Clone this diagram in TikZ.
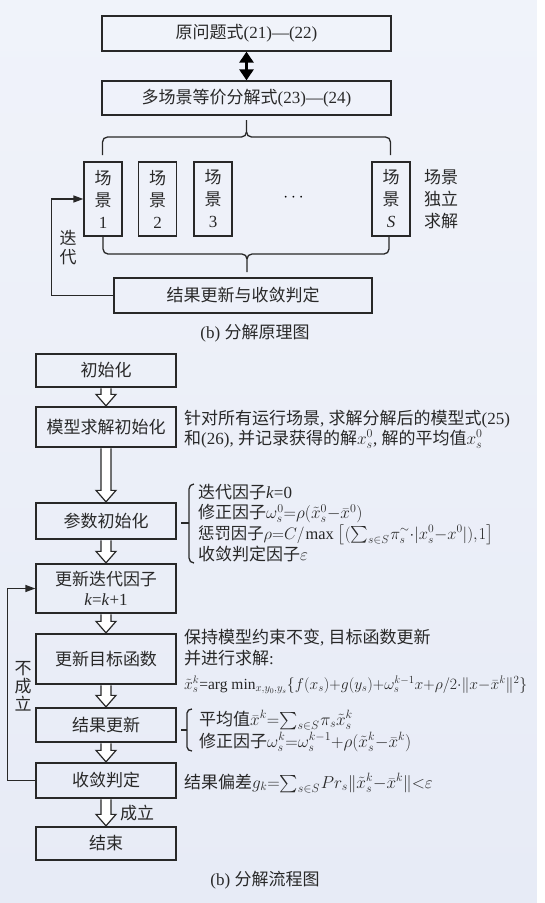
\documentclass[tikz,border=0pt]{standalone}
\usepackage{amsmath}
\usepackage{graphicx}
\usepackage{fontspec}
\setmainfont{Liberation Serif}
\newfontfamily\cjk{Noto Sans CJK SC}
\usetikzlibrary{arrows.meta,calc}
\newcommand\zh[1]{{\cjk #1}}
\newcommand\tightmath{\medmuskip=0mu\relax\thickmuskip=0mu\relax\thinmuskip=1mu\relax}
\definecolor{bgtop}{RGB}{240,243,250}
\definecolor{bgbot}{RGB}{231,235,246}
\definecolor{ink}{RGB}{40,40,40}
\newcommand\harrow[2]{\draw[hollow] let \p1=(#1.south), \p2=(#2.north) in
  (\x1-5pt,\y1-0.7pt) -- (\x1-5pt,\y2+12pt) -- (\x1-10pt,\y2+12pt) -- (\x1,\y2+0.5pt)
  -- (\x1+10pt,\y2+12pt) -- (\x1+5pt,\y2+12pt) -- (\x1+5pt,\y1-0.7pt);}
\begin{document}
\begin{tikzpicture}[x=1pt,y=-1pt,
  every node/.style={text=ink, font=\fontsize{17}{20}\selectfont},
  box/.style={draw=ink, line width=1.3pt, inner sep=0pt, align=center},
  scen/.style={box, minimum width=38pt, minimum height=74pt, font=\fontsize{17}{22}\selectfont},
  fbox/.style={box, minimum width=140pt},
  note/.style={anchor=base west, inner sep=0pt,
    font=\fontsize{17}{20}\selectfont\tightmath},
  thinl/.style={draw=ink, line width=1.3pt},
  fb/.style={thinl, -{Triangle[length=10pt,width=7pt]}},
  hollow/.style={draw=ink, line width=1.2pt, fill=white},
]
\useasboundingbox (0,0) rectangle (544,903);
\shade[top color=bgtop, bottom color=bgbot] (0,0) rectangle (537,903);
\fill[white] (537,0) rectangle (544,903);

% ---------- top: decomposition principle ----------
\node[box, minimum width=289pt, minimum height=35pt] (b1) at (246.5,33.5) {\zh{原问题式}(21)—(22)};
\node[box, minimum width=289pt, minimum height=34pt] (b2) at (246.5,98) {\zh{多场景等价分解式}(23)—(24)};
\draw[line width=3.5pt, draw=black, {Triangle[length=11pt,width=14pt]}-{Triangle[length=11pt,width=14pt]}] (b1.south) -- (b2.north);

\draw[thinl] (102.5,155) -- (102.5,142) to[out=90,in=180] (107.5,137) -- (241.5,137) to[out=0,in=-90] (246.5,132) -- (246.5,120);
\draw[thinl] (390.5,155) -- (390.5,142) to[out=90,in=0] (385.5,137) -- (251.5,137) to[out=180,in=-90] (246.5,132);

\node[scen] (s1) at (103,199) {\zh{场}\\\zh{景}\\1};
\node[scen] (s2) at (157.5,199) {\zh{场}\\\zh{景}\\2};
\node[scen] (s3) at (213,199) {\zh{场}\\\zh{景}\\3};
\node[scen] (sS) at (391,199) {\zh{场}\\\zh{景}\\\textit{S}};
\node[text=black] (dots) at (295,198) {$\cdots$};
\node[align=center, font=\fontsize{17}{22}\selectfont] (lbl) at (441,199) {\zh{场景}\\\zh{独立}\\\zh{求解}};

\draw[thinl] (103,237) -- (103,249) to[out=-90,in=180] (108,254) -- (242,254) to[out=0,in=90] (247,259) -- (247,272);
\draw[thinl] (389,237) -- (389,249) to[out=-90,in=0] (384,254) -- (252,254) to[out=180,in=90] (247,259);

\node[box, minimum width=258pt, minimum height=35pt] (res) at (243,295.5) {\zh{结果更新与收敛判定}};
\draw[fb] (res.west) -- ++(-62,0) |- (s1.west);
\node[align=center, font=\fontsize{17}{19}\selectfont] (it) at (68,248) {\zh{迭}\\\zh{代}};
\node (cap1) at (255,333) {(b) \zh{分解原理图}};

% ---------- bottom: flow chart ----------
\node[fbox, minimum height=33pt] (init) at (106,370.5) {\zh{初始化}};
\node[fbox, minimum height=40pt] (minit) at (106,427) {\zh{模型求解初始化}};
\node[fbox, minimum height=36pt] (pinit) at (106,521) {\zh{参数初始化}};
\node[fbox, minimum height=49pt] (upk) at (106,588.5) {\zh{更新迭代因子}\\\textit{k}=\textit{k}+1};
\node[fbox, minimum height=50pt] (upobj) at (106,659) {\zh{更新目标函数}};
\node[fbox, minimum height=34pt] (resup) at (106,725) {\zh{结果更新}};
\node[fbox, minimum height=35pt] (conv) at (106,780.5) {\zh{收敛判定}};
\node[fbox, minimum height=33pt] (fin) at (106,843.5) {\zh{结束}};

\harrow{init}{minit}
\harrow{minit}{pinit}
\harrow{pinit}{upk}
\harrow{upk}{upobj}
\harrow{upobj}{resup}
\harrow{resup}{conv}
\harrow{conv}{fin}
\node[anchor=west, inner sep=0pt] (ok) at (120,813) {\zh{成立}};

\draw[fb] (conv.west) -- ++(-28,0) |- (upk.west);
\node[align=center, font=\fontsize{17}{18}\selectfont] (no) at (23,686) {\zh{不}\\\zh{成}\\\zh{立}};

% annotations
\node[note] at (184,424) {\zh{针对所有运行场景}, \zh{求解分解后的模型式}(25)};
\node[note] at (184,444) {\zh{和}(26), \zh{并记录获得的解}$x_s^0$, \zh{解的平均值}$x_s^0$};

\draw[thinl] (194,484) to[out=180,in=90] (189,489) -- (189,558) to[out=-90,in=180] (194,563);
\draw[thinl] (189,523) -- (181,523);
\node[note] at (198,498) {\zh{迭代因子}\textit{k}=0};
\node[note] at (198,518.5) {\zh{修正因子}$\omega_s^0=\rho(\tilde{x}_s^0-\bar{x}^0)$};
\node[note] at (198,539) {\resizebox{295pt}{!}{\zh{惩罚因子}$\rho=C/\max\ \bigl[(\sum_{s\in S}\pi_s^{\sim}\cdot|x_s^0-x^0|),1\bigr]$}};
\node[note] at (198,560) {\zh{收敛判定因子}$\varepsilon$};

\node[note] at (184,643) {\zh{保持模型约束不变}, \zh{目标函数更新}};
\node[note] at (184,664) {\zh{并进行求解}:};
\node[note] at (184,689) {\resizebox{343pt}{!}{$\tilde{x}_s^k$=arg min$_{x,y_0,y_s}\{f(x_s)+g(y_s)+\omega_s^{k-1}x+\rho/2\cdot\|x-\bar{x}^k\|^2\}$}};

\draw[thinl] (192,709) to[out=180,in=90] (187,713) -- (187,747) to[out=-90,in=180] (192,751);
\draw[thinl] (187,730) -- (181,730);
\node[note] at (199,725) {\zh{平均值}$\bar{x}^k=\sum_{s\in S}\pi_s\tilde{x}_s^k$};
\node[note] at (199,747) {\zh{修正因子}$\omega_s^k=\omega_s^{k-1}+\rho(\tilde{x}_s^k-\bar{x}^k)$};

\node[note] at (184,788) {\zh{结果偏差}$g_k=\sum_{s\in S}Pr_s\|\tilde{x}_s^k-\bar{x}^k\|<\varepsilon$};

\node (cap2) at (265,880) {(b) \zh{分解流程图}};
\end{tikzpicture}
\end{document}
